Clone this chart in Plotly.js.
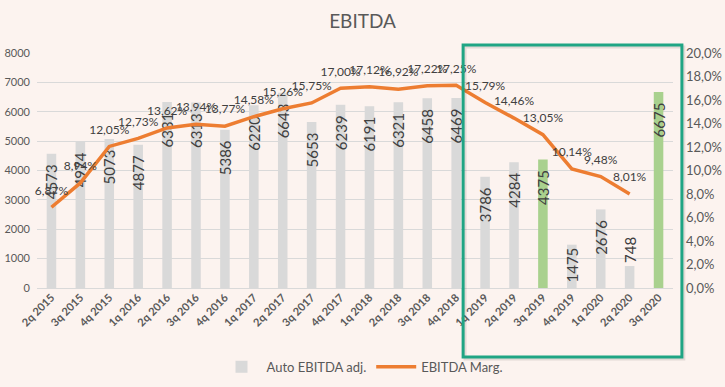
<!DOCTYPE html>
<html>
<head>
<meta charset="utf-8">
<script src="https://cdn.plot.ly/plotly-3.0.1.min.js"></script>
<style>html,body{margin:0;padding:0;background:#FCF3EF;}#chart{width:725px;height:387px;}</style>
</head>
<body>
<div id="chart"></div>
<script>
const categories = ["2q 2015","3q 2015","4q 2015","1q 2016","2q 2016","3q 2016","4q 2016","1q 2017","2q 2017","3q 2017","4q 2017","1q 2018","2q 2018","3q 2018","4q 2018","1q 2019","2q 2019","3q 2019","4q 2019","1q 2020","2q 2020","3q 2020"];
const ebitdaAdj = [4573,4974,5073,4877,6331,6313,5386,6220,6643,5653,6239,6191,6321,6458,6469,3786,4284,4375,1475,2676,748,6675];
const highlighted = ["3q 2019","3q 2020"];
const marginCategories = categories.slice(0, 21);
const ebitdaMarg = [6.87,8.94,12.05,12.73,13.62,13.94,13.77,14.58,15.26,15.75,17.00,17.12,16.92,17.22,17.25,15.79,14.46,13.05,10.14,9.48,8.01];

const FONT = "Lato, 'Open Sans', sans-serif";
const grey = "#D9D9D9", green = "#A9D18E", orange = "#ED7D31", txt = "#595959";
const NB = "\u00a0\u00a0";

const barTrace = {
  type: "bar",
  name: "Auto EBITDA adj.",
  x: categories,
  y: ebitdaAdj,
  width: 0.33,
  marker: {color: categories.map(c => highlighted.includes(c) ? green : grey)},
  text: ebitdaAdj.map(v => v >= 2000 ? String(v) + NB : String(v)),
  textposition: ebitdaAdj.map(v => v < 1000 ? "outside" : "inside"),
  insidetextanchor: "end",
  textangle: -90,
  constraintext: "none",
  cliponaxis: false,
  insidetextfont: {family: FONT, size: 15, color: "#404040"},
  outsidetextfont: {family: FONT, size: 15, color: "#404040"},
  hoverinfo: "skip"
};
const lineTrace = {
  type: "scatter",
  mode: "lines+markers+text",
  name: "EBITDA Marg.",
  x: marginCategories,
  y: ebitdaMarg,
  yaxis: "y2",
  line: {color: orange, width: 3.5},
  marker: {size: 14, color: "rgba(0,0,0,0)", line: {width: 0}},
  text: ebitdaMarg.map(v => v.toFixed(2).replace(".", ",") + "%"),
  textposition: "top center",
  textfont: {family: FONT, size: 12, color: "#404040"},
  cliponaxis: false,
  hoverinfo: "skip"
};

const layout = {
  width: 725, height: 387,
  paper_bgcolor: "#FCF3EF",
  plot_bgcolor: "#FCF3EF",
  separators: ",.",
  font: {family: FONT, color: txt},
  margin: {l: 37, r: 52, t: 53, b: 99, pad: 0, autoexpand: false},
  title: {text: "EBITDA", font: {family: FONT, size: 19, color: txt}, x: 0.5, xanchor: "center", y: 0.945, yanchor: "middle"},
  showlegend: true,
  legend: {orientation: "h", x: 0.5, xanchor: "center", xref: "container", yref: "container", y: 0.052, yanchor: "middle",
           font: {family: FONT, size: 13, color: txt}, bgcolor: "rgba(0,0,0,0)", traceorder: "normal", itemwidth: 40},
  xaxis: {
    type: "category",
    tickangle: -45,
    tickfont: {family: FONT, size: 11, color: txt, weight: "bold"},
    showgrid: false, showline: false, ticks: "", zeroline: false,
    range: [-0.5, 21.5], automargin: false
  },
  yaxis: {
    range: [0, 8000], dtick: 1000,
    showgrid: true, gridcolor: grey, gridwidth: 1,
    zeroline: true, zerolinecolor: grey,
    tickfont: {family: FONT, size: 11, color: txt},
    ticks: "", ticklabelstandoff: 6, automargin: false
  },
  yaxis2: {
    overlaying: "y", side: "right",
    range: [0, 20], dtick: 2, tickformat: ".1f", ticksuffix: "%",
    showgrid: false, zeroline: false,
    tickfont: {family: FONT, size: 13, color: txt},
    ticks: "", ticklabelstandoff: 12, automargin: false
  },
  shapes: [
    {type: "rect", xref: "paper", yref: "paper", x0: 0.673, x1: 1.017, y0: -0.302, y1: 1.026,
     line: {color: "rgba(0,0,0,0.10)", width: 3}, fillcolor: "rgba(0,0,0,0)", layer: "above"},
    {type: "rect", xref: "paper", yref: "paper", x0: 0.670, x1: 1.014, y0: -0.294, y1: 1.034,
     line: {color: "#1FA584", width: 3}, fillcolor: "rgba(0,0,0,0)", layer: "above"}
  ]
};

Plotly.newPlot("chart", [barTrace, lineTrace], layout, {displayModeBar: false, staticPlot: true});
</script>
</body>
</html>
